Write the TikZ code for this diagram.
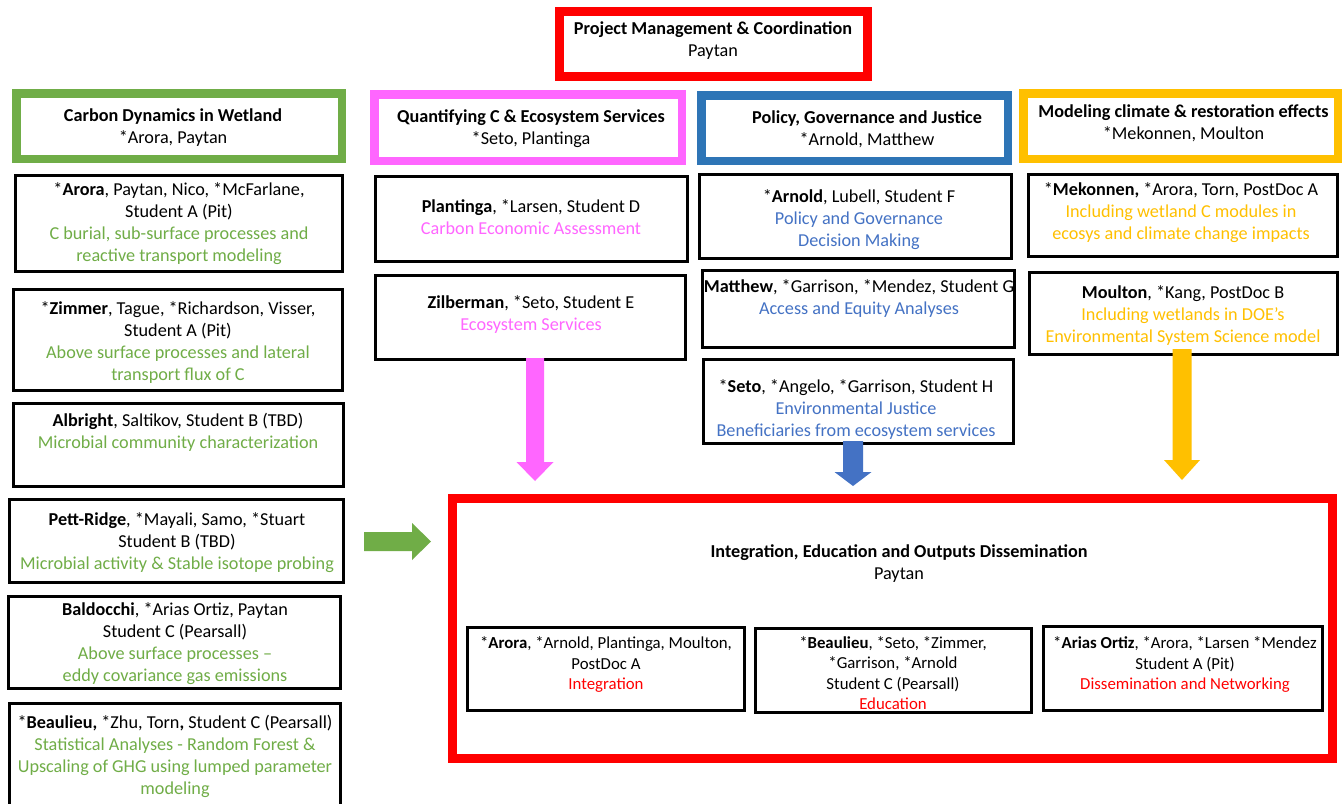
\documentclass[tikz,border=0pt]{standalone}
\usepackage{fontspec}
\setmainfont{Carlito}
\usetikzlibrary{calc}
\definecolor{cgreen}{HTML}{70AD47}
\definecolor{cmag}{HTML}{FF66FF}
\definecolor{cblueb}{HTML}{2E75B6}
\definecolor{cblue}{HTML}{4472C4}
\definecolor{cgold}{HTML}{FFC000}
\definecolor{cred}{HTML}{FF0000}
\newcommand\Tg[1]{\textcolor{cgreen}{#1}}
\newcommand\Tm[1]{\textcolor{cmag}{#1}}
\newcommand\Tb[1]{\textcolor{cblue}{#1}}
\newcommand\To[1]{\textcolor{cgold}{#1}}
\newcommand\Tr[1]{\textcolor{cred}{#1}}
\newcommand\blockdown[6]{%
  \fill[#1] ($(#2)+(-#4,0)$) -- ($(#2)+(#4,0)$) -- ($(#3)+(#4,-#6)$) -- ($(#3)+(#5,-#6)$) -- (#3) -- ($(#3)+(-#5,-#6)$) -- ($(#3)+(-#4,-#6)$) -- cycle;}
\newcommand\blockright[6]{%
  \fill[#1] ($(#2)+(0,-#4)$) -- ($(#3)+(-#6,-#4)$) -- ($(#3)+(-#6,-#5)$) -- (#3) -- ($(#3)+(-#6,#5)$) -- ($(#3)+(-#6,#4)$) -- ($(#2)+(0,#4)$) -- cycle;}
\begin{document}
\begin{tikzpicture}[x=1pt,y=-1pt,
  hdr/.style={draw, line width=8.5pt, fill=white, inner sep=0pt},
  bx/.style={draw=black, line width=3pt, fill=white, inner sep=0pt},
  txt/.style={align=center, inner sep=0pt, text=black, font=\fontsize{18.2}{22}\selectfont},
  txts/.style={align=center, inner sep=0pt, text=black, font=\fontsize{16.8}{20.5}\selectfont}]
\useasboundingbox (0,0) rectangle (1343,803);
\clip (0,0) rectangle (1343,803);
\fill[white] (0,0) rectangle (1343,803);

% Project management
\node[hdr, draw=cred, line width=9pt, minimum width=308pt, minimum height=65pt] (PM) at (713.5,44) {};
\node[txt] (tPM) at (713,41) {\textbf{Project Management \& Coordination}\\Paytan};

% Column 1: green
\node[hdr, draw=cgreen, minimum width=325.5pt, minimum height=65.5pt] (G0) at (179,126) {};
\node[txt] (tG0) at (173,128) {\textbf{Carbon Dynamics in Wetland}\\*Arora, Paytan};
\node[bx, minimum width=327pt, minimum height=96pt] (B1) at (179,223.5) {};
\node[txt] (tB1) at (179,224) {*\textbf{Arora}, Paytan, Nico, *McFarlane,\\Student A (Pit)\\\Tg{C burial, sub-surface processes and}\\\Tg{reactive transport modeling}};
\node[bx, minimum width=329pt, minimum height=101pt] (B2) at (178,340) {};
\node[txt] (tB2) at (178,342.5) {*\textbf{Zimmer}, Tague, *Richardson, Visser,\\Student A (Pit)\\\Tg{Above surface processes and lateral}\\\Tg{transport flux of C}};
\node[bx, minimum width=330pt, minimum height=83pt] (B3) at (178.5,445) {};
\node[txt] (tB3) at (178,432.5) {\textbf{Albright}, Saltikov, Student B (TBD)\\\Tg{Microbial community characterization}};
\node[bx, minimum width=334pt, minimum height=83pt] (B4) at (176.5,541) {};
\node[txt] (tB4) at (177,543) {\textbf{Pett-Ridge}, *Mayali, Samo, *Stuart\\Student B (TBD)\\\Tg{Microbial activity \& Stable isotope probing}};
\node[bx, minimum width=332pt, minimum height=92pt] (B5) at (174.5,642.5) {};
\node[txt] (tB5) at (175,644) {\textbf{Baldocchi}, *Arias Ortiz, Paytan\\Student C (Pearsall)\\\Tg{Above surface processes --}\\\Tg{eddy covariance gas emissions}};
\node[bx, minimum width=331pt, minimum height=112pt] (B6) at (175,759) {};
\node[txt] (tB6) at (175,756) {*\textbf{Beaulieu,} *Zhu, Torn\textbf{,} Student C (Pearsall)\\\Tg{Statistical Analyses - Random Forest \&}\\\Tg{Upscaling of GHG using lumped parameter}\\\Tg{modeling}};

% Column 2: magenta
\node[hdr, draw=cmag, minimum width=307.5pt, minimum height=66.5pt] (Q0) at (528,127.5) {};
\node[txt] (tQ0) at (531,129) {\textbf{Quantifying C \& Ecosystem Services}\\*Seto, Plantinga};
\node[bx, minimum width=312pt, minimum height=85pt] (M1) at (531.5,219) {};
\node[txt] (tM1) at (531,217) {\textbf{Plantinga}, *Larsen, Student D\\\Tm{Carbon Economic Assessment}};
\node[bx, minimum width=310pt, minimum height=84pt] (M2) at (530.5,317.5) {};
\node[txt] (tM2) at (531,315) {\textbf{Zilberman}, *Seto, Student E\\\Tm{Ecosystem Services}};

% Column 3: blue
\node[hdr, draw=cblueb, minimum width=306.5pt, minimum height=65.5pt] (P0) at (854.5,128) {};
\node[txt] (tP0) at (867,129) {\textbf{Policy, Governance and Justice}\\*Arnold, Matthew};
\node[bx, minimum width=312pt, minimum height=84pt] (P1) at (855.5,216.5) {};
\node[txt] (tP1) at (859,220) {*\textbf{Arnold}, Lubell, Student F\\\Tb{Policy and Governance}\\\Tb{Decision Making}};
\node[bx, minimum width=312pt, minimum height=77pt] (P2) at (858.5,309) {};
\node[txt] (tP2) at (859,299) {\textbf{Matthew}, *Garrison, *Mendez, Student G\\\Tb{Access and Equity Analyses}};
\node[bx, minimum width=310pt, minimum height=84pt] (P3) at (858.5,401.5) {};
\node[txt] (tP3) at (856,409) {*\textbf{Seto}, *Angelo, *Garrison, Student H\\\Tb{Environmental Justice}\\\Tb{Beneficiaries from ecosystem services}};

% Column 4: gold
\node[hdr, draw=cgold, minimum width=314.5pt, minimum height=65.5pt] (O0) at (1180.5,126) {};
\node[txt] (tO0) at (1183.5,123.5) {\textbf{Modeling climate \& restoration effects}\\*Mekonnen, Moulton};
\node[bx, minimum width=309pt, minimum height=82pt] (G1) at (1183,215.5) {};
\node[txt] (tG1) at (1181,213) {*\textbf{Mekonnen,} *Arora, Torn, PostDoc A\\\To{Including wetland C modules in}\\\To{ecosys and climate change impacts}};
\node[bx, minimum width=308pt, minimum height=82pt] (G2) at (1183.5,313.5) {};
\node[txt] (tG2) at (1183,316) {\textbf{Moulton}, *Kang, PostDoc B\\\To{Including wetlands in DOE’s}\\\To{Environmental System Science model}};

% Integration box
\node[hdr, draw=cred, line width=9pt, minimum width=880pt, minimum height=260pt] (R) at (892.5,628.5) {};
\node[txt] (tR) at (899,564) {\textbf{Integration, Education and Outputs Dissemination}\\Paytan};
\node[bx, minimum width=277pt, minimum height=83pt] (I1) at (606,669) {};
\node[txts] (tI1) at (606,664.5) {*\textbf{Arora}, *Arnold, Plantinga, Moulton,\\PostDoc A\\\Tr{Integration}};
\node[bx, minimum width=276pt, minimum height=84pt] (I2) at (893.5,670.5) {};
\node[txts] (tI2) at (893,673) {*\textbf{Beaulieu}, *Seto, *Zimmer,\\*Garrison, *Arnold\\Student C (Pearsall)\\\Tr{Education}};
\node[bx, minimum width=279pt, minimum height=84pt] (I3) at (1183,668.5) {};
\node[txts] (tI3) at (1185,664.5) {*\textbf{Arias Ortiz}, *Arora, *Larsen *Mendez\\Student A (Pit)\\\Tr{Dissemination and Networking}};

% Block arrows
\coordinate (ma) at ($(M2.south)+(4.5,-3)$);
\coordinate (mb) at ($(ma |- R.north)+(0,-13)$);
\blockdown{cmag}{ma}{mb}{9}{18.5}{19}
\coordinate (ba) at ($(P3.south)+(-5.5,-4)$);
\coordinate (bb) at ($(ba |- R.north)+(0,-8)$);
\blockdown{cblue}{ba}{bb}{10}{18.5}{14}
\coordinate (oa) at ($(G2.south)+(-1.5,-7)$);
\coordinate (ob) at ($(oa |- R.north)+(0,-14)$);
\blockdown{cgold}{oa}{ob}{9.5}{18}{20}
\coordinate (ga) at ($(B4.east)+(19,0.5)$);
\coordinate (gb) at ($(ga -| R.west)+(-17,0)$);
\blockright{cgreen}{ga}{gb}{9.5}{18.5}{19}
\end{tikzpicture}
\end{document}
